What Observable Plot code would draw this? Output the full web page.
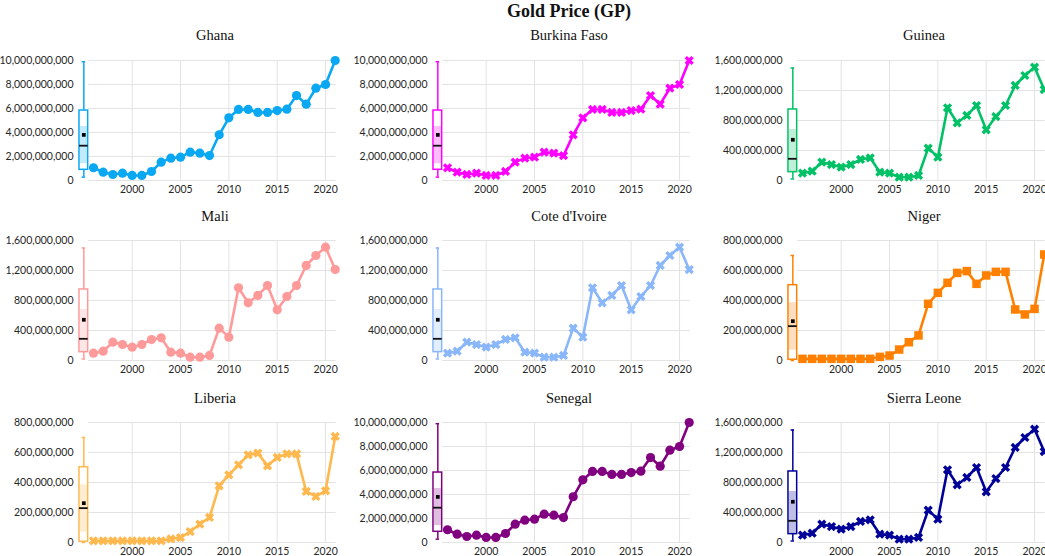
<!DOCTYPE html>
<html><head><meta charset="utf-8">
<script src="https://cdn.jsdelivr.net/npm/d3@7"></script>
<script src="https://cdn.jsdelivr.net/npm/@observablehq/plot@0.6"></script>
<style>
html,body{margin:0;padding:0;background:#fff;overflow:hidden;width:1045px;height:556px;}
#root{position:relative;width:1045px;height:556px;overflow:hidden;}
.t{position:absolute;font-family:"Liberation Serif","Times New Roman",serif;color:#111;white-space:nowrap;transform:translateX(-50%);}
.p{position:absolute;}
.p svg{overflow:visible;}
</style></head><body><div id="root"></div>
<script>
// ---------- data ----------
const years = [1996,1997,1998,1999,2000,2001,2002,2003,2004,2005,2006,2007,2008,2009,2010,2011,2012,2013,2014,2015,2016,2017,2018,2019,2020,2021];
// series used by Ghana, Burkina Faso, Senegal
const goldA = [1.06e9,0.69e9,0.50e9,0.61e9,0.42e9,0.42e9,0.75e9,1.53e9,1.86e9,1.94e9,2.36e9,2.28e9,2.08e9,3.81e9,5.22e9,5.92e9,5.92e9,5.67e9,5.67e9,5.83e9,5.94e9,7.08e9,6.36e9,7.69e9,8.0e9,10.0e9];
// series used by Guinea, Mali, Cote d'Ivoire, Sierra Leone
const goldB = [0.098e9,0.124e9,0.244e9,0.213e9,0.178e9,0.213e9,0.28e9,0.302e9,0.111e9,0.098e9,0.044e9,0.044e9,0.067e9,0.431e9,0.311e9,0.969e9,0.769e9,0.867e9,1.0e9,0.676e9,0.853e9,1.0e9,1.267e9,1.4e9,1.511e9,1.213e9];
// series used by Niger, Liberia
const goldC = [0.011e9,0.011e9,0.011e9,0.011e9,0.011e9,0.011e9,0.011e9,0.011e9,0.024e9,0.033e9,0.073e9,0.122e9,0.167e9,0.378e9,0.451e9,0.518e9,0.584e9,0.596e9,0.511e9,0.567e9,0.591e9,0.591e9,0.34e9,0.307e9,0.344e9,0.707e9];
const seriesValues = [goldA, goldB, goldC];

// box summary for series A, B, C
const boxLow    = [0.28e9, 0.02e9, 0];
const boxQ1     = [0.89e9, 0.111e9, 0.005e9];
const boxMedian = [2.9e9, 0.289e9, 0.229e9];
const boxMean   = [3.8e9, 0.543e9, 0.262e9];
const boxQ3     = [5.83e9, 0.947e9, 0.502e9];
const boxHigh   = [9.9e9, 1.5e9, 0.7e9];
const shadeLow  = [1.4e9, 0.12e9, 0.069e9];
const shadeHigh = [4.5e9, 0.68e9, 0.385e9];

const yMax  = [10e9, 1.6e9, 0.8e9];
const yStep = [2e9, 0.4e9, 0.2e9];
const xTicks = [2000, 2005, 2010, 2015, 2020];

const countries = ["Ghana","Burkina Faso","Guinea","Mali","Cote d'Ivoire","Niger","Liberia","Senegal","Sierra Leone"];
const seriesIndex = [0,0,1,1,1,2,2,0,1];
const colors = ["#0aa8f2","#ff00ff","#00c165","#ff9a9a","#8ab6fa","#ff8000","#ffb84d","#800080","#000099"];
const symbols = ["circle","times","times","circle","times","square","times","circle","times"];
const mainTitle = "Gold Price (GP)";

// ---------- layout ----------
const root = document.getElementById("root");
const colPlotLeft = [78, 432.4, 786.5];
const colTitleX = [215, 569, 924];
const rowPlotTop = [60, 240, 422];
const rowTitleY = [35, 216, 398];
const mL = 78, mT = 10, mB = 22, plotH = 120, plotW = 257.7;
const colMR = [8, 8, 1];

function addText(txt, x, y, size, bold) {
  const d = document.createElement("div");
  d.className = "t";
  d.textContent = txt;
  d.style.left = x + "px";
  d.style.top = (y - 10) + "px";
  d.style.lineHeight = "20px";
  d.style.fontSize = size + "px";
  if (bold) d.style.fontWeight = "bold";
  root.appendChild(d);
}
addText(mainTitle, 569, 10.5, 18, true);

countries.forEach((name, i) => {
  const col = i % 3, row = Math.floor(i / 3);
  const s = seriesIndex[i];
  const color = colors[i];
  const sym = symbols[i];
  const data = years.map((y, k) => ({year: y, value: seriesValues[s][k]}));
  const yt = d3.range(0, yMax[s] + yStep[s] / 2, yStep[s]);
  const bx = 1995, hw = 0.45;
  const box = [{lo: boxLow[s], q1: boxQ1[s], med: boxMedian[s], mean: boxMean[s], q3: boxQ3[s], hi: boxHigh[s], sl: shadeLow[s], sh: shadeHigh[s]}];
  const W = mL + plotW + colMR[col];
  const dotOpts = sym === "times"
    ? {x: "year", y: "value", symbol: "times", r: 3.2, stroke: color, strokeWidth: 3.4}
    : {x: "year", y: "value", symbol: sym, r: sym === "square" ? 4.8 : 4.6, fill: color, stroke: "none"};

  const chart = Plot.plot({
    width: W, height: mT + plotH + mB,
    marginLeft: mL, marginRight: colMR[col], marginTop: mT, marginBottom: mB,
    style: {fontFamily: "Lato, 'Open Sans', sans-serif", fontSize: "10.5px", color: "#262626", background: "transparent", overflow: "visible"},
    x: {domain: [1994.45, 2021.1], ticks: xTicks, tickFormat: d => String(d), tickSize: 0, tickPadding: 5, label: null},
    y: {domain: [0, yMax[s]], ticks: yt, tickFormat: d3.format(","), tickSize: 0, tickPadding: 5, label: null},
    marks: [
      Plot.ruleX(xTicks, {x: d => d, stroke: "#e3e3e3", strokeWidth: 1}),
      Plot.ruleY(yt, {y: d => d, x1: () => 1995.5, x2: () => 2021.1, stroke: "#e3e3e3", strokeWidth: 1}),
      // box plot
      Plot.ruleX(box, {x: () => bx, y1: d => d.lo, y2: d => d.hi, stroke: color, strokeWidth: 1.5}),
      Plot.ruleY(box, {y: d => d.hi, x1: () => bx - 0.18, x2: () => bx + 0.18, stroke: color, strokeWidth: 1.5}),
      Plot.ruleY(box, {y: d => d.lo, x1: () => bx - 0.18, x2: () => bx + 0.18, stroke: color, strokeWidth: 1.5}),
      Plot.rect(box, {x1: () => bx - hw, x2: () => bx + hw, y1: d => d.q1, y2: d => d.q3, fill: "white", stroke: color, strokeWidth: 1.5}),
      Plot.rect(box, {x1: () => bx - hw + 0.08, x2: () => bx + hw - 0.08, y1: d => d.sl, y2: d => d.sh, fill: color, fillOpacity: 0.25}),
      Plot.ruleY(box, {y: d => d.med, x1: () => bx - hw, x2: () => bx + hw, stroke: "#111", strokeWidth: 1.8}),
      Plot.dot(box, {x: () => bx, y: d => d.mean, symbol: "square", r: 2.1, fill: "#000"}),
      // series
      Plot.line(data, {x: "year", y: "value", stroke: color, strokeWidth: 2.6}),
      Plot.dot(data, dotOpts)
    ]
  });
  const wrap = document.createElement("div");
  wrap.className = "p";
  wrap.style.left = (colPlotLeft[col] - mL) + "px";
  wrap.style.top = (rowPlotTop[row] - mT) + "px";
  wrap.style.width = W + "px";
  wrap.appendChild(chart);
  root.appendChild(wrap);
  addText(name, colTitleX[col], rowTitleY[row], 14.5, false);
});
</script>
</body></html>
